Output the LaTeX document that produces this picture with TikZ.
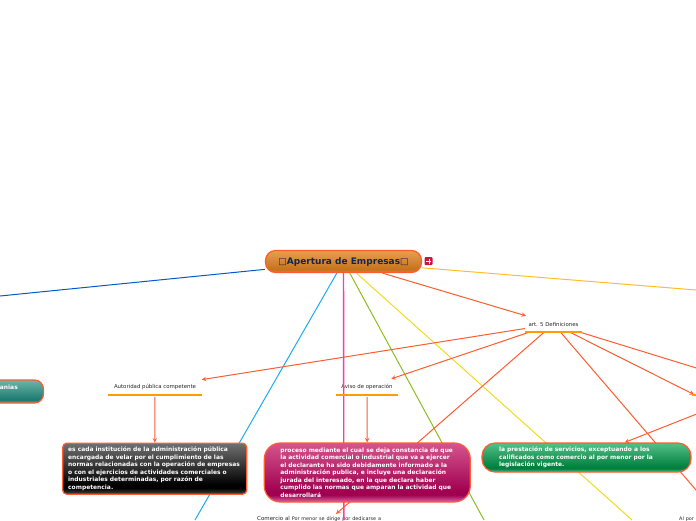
\documentclass[tikz,border=0pt]{standalone}
\usepackage{fontspec}
\setmainfont{DejaVu Sans}
\usetikzlibrary{calc}
\definecolor{linkred}{HTML}{FF5C30}
\definecolor{labelline}{HTML}{FF9C00}
\definecolor{blueline}{HTML}{005AC8}
\definecolor{cyanline}{HTML}{1EAAF0}
\definecolor{pinkline}{HTML}{FF3A9E}
\definecolor{greenline}{HTML}{8CBE1E}
\definecolor{yellowline}{HTML}{F0DC1E}
\definecolor{goldline}{HTML}{FFBE28}
\newcommand{\glassshading}[4]{\pgfdeclareverticalshading{#1}{100bp}{color(0bp)=(#4); color(25bp)=(#4); color(31bp)=(#3); color(34bp)=(#3); color(75bp)=(#2); color(100bp)=(#2)}}
\definecolor{rootT}{HTML}{E6A04E}\definecolor{rootD}{HTML}{C8741F}\definecolor{rootB}{HTML}{D08A3A}
\definecolor{blackT}{HTML}{707070}\definecolor{blackD}{HTML}{000000}\definecolor{blackB}{HTML}{484848}
\definecolor{pinkT}{HTML}{D4558E}\definecolor{pinkD}{HTML}{A00050}\definecolor{pinkB}{HTML}{D8689C}
\definecolor{greenT}{HTML}{55C088}\definecolor{greenD}{HTML}{00803F}\definecolor{greenB}{HTML}{55B888}
\definecolor{tealT}{HTML}{6DB5A8}\definecolor{tealD}{HTML}{1F7C72}\definecolor{tealB}{HTML}{6DB5A8}
\glassshading{rootglass}{rootT}{rootD}{rootB}
\glassshading{blackglass}{blackT}{blackD}{blackB}
\glassshading{pinkglass}{pinkT}{pinkD}{pinkB}
\glassshading{greenglass}{greenT}{greenD}{greenB}
\glassshading{tealglass}{tealT}{tealD}{tealB}
\tikzset{
    link/.style={draw=linkred, line width=1pt},
    arrowlink/.style={link, -stealth},
    branch/.style={line width=1pt},
    underline/.style={fill=labelline},
    label/.style={font=\fontsize{5.4}{6}\selectfont, text=black!85, inner sep=0pt, minimum height=16pt},
    cutlabel/.style={font=\fontsize{5.5}{6}\selectfont, text=black!85, inner sep=0pt, anchor=north west, align=left, text height=6pt, text depth=16pt},
    box/.style={draw=linkred, line width=1.2pt, text=white, font=\bfseries\fontsize{5.95}{7.55}\selectfont, align=left, inner ysep=0pt}
}
\begin{document}
\begin{tikzpicture}[x=1pt,y=-1pt]
    \path[use as bounding box, clip] (0,0) rectangle (696,520);

    \node[draw=linkred, line width=1.2pt, shading=rootglass, rounded corners=10pt, minimum width=156pt, minimum height=22pt, inner sep=0pt, text={rgb,255:red,18;green,38;blue,85}, text height=6.5pt, text depth=0pt, font=\bfseries\fontsize{9}{10}\selectfont] (root) at (343.5,261.5) {□Apertura de Empresas□};
    \coordinate (blueEnd) at (0,296); \coordinate (cyanEnd) at (195,520); \coordinate (pinkEnd) at (343.9,520);
    \coordinate (greenEnd) at (484,520); \coordinate (yellowEnd) at (632,520); \coordinate (goldEnd) at (696,290);
    \coordinate (rightTip) at (694,394.5); \coordinate (artFar) at (810,403);

    \node[label, minimum width=57pt] (art) at (553.5,324) {art. 5 Definiciones};
    \node[label, minimum width=93pt] (autoridad) at (155,387) {Autoridad pública competente};
    \node[label, minimum width=62pt] (aviso) at (367,387) {Aviso de operación};
    \node[label, minimum width=146pt] (rightLabel) at (765,387) {};
    \node[cutlabel, text width=132pt] (comercio) at (257,514) {Comercio al {\fontsize{4.9}{5}\selectfont Por menor se dirige por dedicarse a}};
    \node[cutlabel, text width=94pt] (mayor) at (679,514) {\fontsize{4.9}{5}\selectfont Al por};

    \draw[branch, blueline] (root) -- (blueEnd);
    \draw[branch, cyanline] (root) -- (cyanEnd);
    \draw[branch, pinkline, line width=1.4pt] (root) -- (pinkEnd);
    \draw[branch, greenline] (root) -- (greenEnd);
    \draw[branch, yellowline] (root) -- (yellowEnd);
    \draw[branch, goldline] (root) -- (goldEnd);

    \draw[arrowlink] (root) -- (art);
    \draw[arrowlink] (art) -- (autoridad);
    \draw[arrowlink] (art) -- (aviso);
    \draw[arrowlink] (art) -- (comercio);
    \draw[link] (art) -- (mayor);
    \draw[arrowlink] (art) -- (rightTip);
    \draw[link] (art) -- (artFar);

    \node[box, shading=blackglass, rounded corners=4pt, text width=173pt, inner xsep=5.5pt, minimum height=51pt] (instBox) at (154.7,468.7) {es cada institución de la administración pública\\encargada de velar por el cumplimiento de las\\normas relacionadas con la operación de empresas\\o con el ejercicios de actividades comerciales o\\industriales determinadas, por razón de\\competencia.};
    \node[box, shading=pinkglass, rounded corners=16pt, text width=174pt, inner xsep=16pt, minimum height=59pt] (procesoBox) at (367.3,472.5) {proceso mediante el cual se deja constancia de que\\la actividad comercial o industrial que va a ejercer\\el declarante ha sido debidamente informado a la\\administración publica, e incluye una declaración\\jurada del interesado, en la que declara haber\\cumplido las normas que amparan la actividad que\\desarrollará};
    \node[box, shading=greenglass, rounded corners=13pt, text width=175pt, inner xsep=17pt, minimum height=29pt] (servicioBox) at (586.5,457.5) {la prestación de servicios, exceptuando a los\\calificados como comercio al por menor por la\\legislación vigente.};
    \node[box, shading=tealglass, rounded corners=9pt, minimum width=103pt, minimum height=23pt, inner xsep=0pt] (tealBox) at (-8,391.5) {};
    \node[text=white, font=\bfseries\fontsize{5.95}{7}\selectfont, inner sep=0pt, anchor=east] (tealText) at (18,387.5) {anias};

    \draw[arrowlink, shorten <=2pt] (autoridad) -- (instBox);
    \draw[arrowlink, shorten <=2pt] (aviso) -- (procesoBox);
    \draw[arrowlink] (rightLabel) -- (servicioBox);

    \foreach \p in {art,autoridad,aviso,rightLabel} {\fill[underline] ($(\p.south west)+(0,-0.9)$) rectangle ($(\p.south east)+(0,1.1)$);}

    \node[fill={rgb,255:red,200;green,22;blue,60}, rounded corners=1pt, minimum size=8pt, inner sep=0pt] (icon) at (428.5,261) {};
    \draw[white, line width=0.8pt] ($(icon.center)+(-2.5,0.5)$) -- ($(icon.center)+(2.5,0.5)$) ($(icon.center)+(0.5,-2.5)$) -- ($(icon.center)+(0.5,2.5)$);
\end{tikzpicture}
\end{document}
